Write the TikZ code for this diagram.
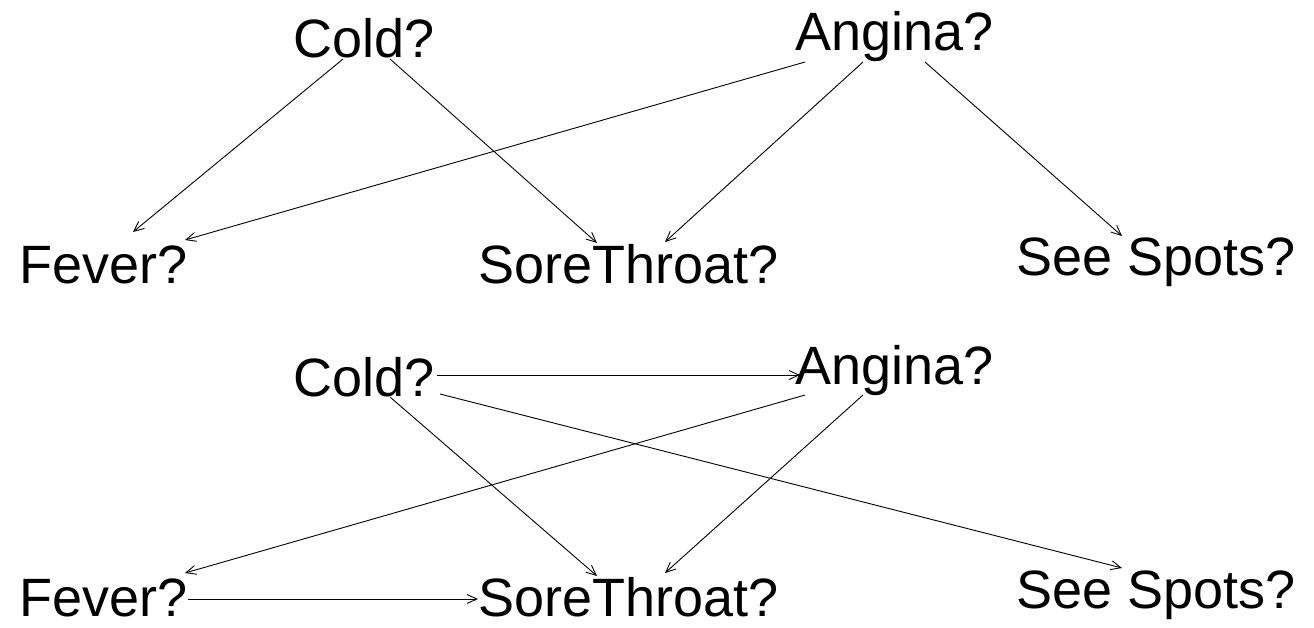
\documentclass[tikz,border=0pt]{standalone}
\usepackage{fontspec}
\setmainfont{Liberation Sans}
\usetikzlibrary{calc,arrows.meta}
\begin{document}
\begin{tikzpicture}[x=1pt,y=-1pt,
    every node/.style={anchor=base west,inner sep=0pt,font=\fontsize{54}{60}\selectfont},
    >={Straight Barb[length=10pt,width=9pt]},line width=0.9pt]
      \useasboundingbox (0,0) rectangle (1314,627);
      \draw
        (293,57) node (cold1){Cold?}
        (795,50) node (angina1){Angina?}
        (19,283) node (fever1){Fever?}
        (478,283) node (sore1){SoreThroat?}
        (1016,275) node (spots1){See Spots?};
      \draw
        (293,396) node (cold2){Cold?}
        (795,384) node (angina2){Angina?}
        (19,616) node (fever2){Fever?}
        (478,616) node (sore2){SoreThroat?}
        (1016,608) node (spots2){See Spots?};
      \begin{scope}[->]
        \draw ($(cold1.base west)+(50,2)$) to ($(fever1.base west)+(114,-51)$);
        \draw ($(cold1.base west)+(97,2)$) to ($(sore1.base west)+(119,-40)$);
        \draw ($(angina1.base west)+(10,12)$) to ($(fever1.base west)+(166,-43)$);
        \draw ($(angina1.base west)+(68,12)$) to ($(sore1.base west)+(187,-41)$);
        \draw ($(angina1.base west)+(130,12)$) to ($(spots1.base west)+(106,-39)$);
      \end{scope}
      \begin{scope}[->]
        \draw ($(cold2.base west)+(144,-21)$) to ($(angina2.base west)+(5,-9)$);
        \draw ($(cold2.base west)+(97,1)$) to ($(sore2.base west)+(119,-40)$);
        \draw ($(cold2.base west)+(147,-2)$) to ($(spots2.base west)+(106,-40)$);
        \draw ($(angina2.base west)+(10,11)$) to ($(fever2.base west)+(166,-43)$);
        \draw ($(angina2.base west)+(68,11)$) to ($(sore2.base west)+(187,-43)$);
        \draw ($(fever2.base west)+(169,-17)$) to ($(sore2.base west)+(0,-17)$);
      \end{scope}
    \end{tikzpicture}
\end{document}
